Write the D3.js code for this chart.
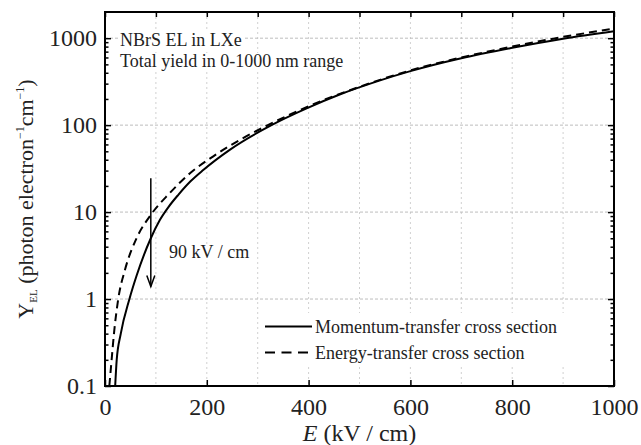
<!DOCTYPE html>
<html>
<head>
<meta charset="utf-8">
<script src="https://cdn.jsdelivr.net/npm/d3@7/dist/d3.min.js"></script>
<style>
body { margin: 0; background: #fff; }
text { font-family: "Liberation Serif", "Times New Roman", serif; fill: #222; }
</style>
</head>
<body>
<svg id="chart" width="641" height="445"></svg>
<script>
// EL yield (photon / electron / cm) vs field (kV/cm)
const eMomentum = [20, 23, 31, 48, 62, 90, 108, 125, 144, 168, 193, 245, 327, 395, 461, 539, 600, 700, 800, 900, 1000];
const yMomentum = [0.1, 0.2, 0.4, 1.0, 1.85, 5.0, 8.15, 11.5, 15.8, 22.6, 30.5, 52, 100, 155, 225, 325, 418, 588, 774, 985, 1200];
const eEnergy = [8.5, 13, 17.6, 26, 39, 62, 90, 127, 167, 212, 265, 320, 400, 500, 600, 700, 800, 900, 1000];
const yEnergy = [0.1, 0.2, 0.4, 1.0, 2.14, 5.0, 9.3, 16.5, 28, 43.5, 67.6, 100, 165, 276, 426, 600, 800, 1035, 1285];

const xTicks = [0, 200, 400, 600, 800, 1000];
const xTopTicks = d3.range(0, 1001, 100);
const xGrid = [100, 200, 300, 400, 500, 600, 700, 800, 900];
const yTicks = [0.1, 1, 10, 100, 1000];
const yTickLabels = ["0.1", "1", "10", "100", "1000"];
const yGrid = [1, 10, 100, 1000];

const seriesNames = ["Momentum-transfer cross section", "Energy-transfer cross section"];
const noteLines = ["NBrS EL in LXe", "Total yield in 0-1000 nm range"];
const arrowE = 90, arrowTop = 24.5, arrowTip = 1.39;

const svg = d3.select("#chart");
const margin = {left: 105, right: 27, top: 12, bottom: 59};
const W = 641, H = 445;
const FONT = "Liberation Serif";
const x = d3.scaleLinear().domain([0, 1000]).range([margin.left, W - margin.right]);
const y = d3.scaleLog().domain([0.1, 2000]).range([H - margin.bottom, margin.top]);

// minor ticks for log axis
const yMinor = [];
for (let p = -1; p <= 3; p++) {
  for (let m = 2; m <= 9; m++) {
    const v = m * Math.pow(10, p);
    if (v < 2000) yMinor.push(v);
  }
}

svg.append("defs").append("clipPath").attr("id", "clip")
  .append("rect")
  .attr("x", margin.left).attr("y", margin.top)
  .attr("width", W - margin.left - margin.right)
  .attr("height", H - margin.top - margin.bottom);

// grid
const grid = svg.append("g").attr("stroke", "#bdbdbd").attr("stroke-width", 1).attr("stroke-dasharray", "3,2");
grid.selectAll(".gx").data(xGrid).enter().append("line")
  .attr("x1", d => x(d)).attr("x2", d => x(d))
  .attr("y1", margin.top).attr("y2", H - margin.bottom)
  .attr("stroke", "#d0d0d0").attr("stroke-dasharray", "2,3");
grid.selectAll(".gy").data(yGrid).enter().append("line")
  .attr("x1", margin.left).attr("x2", W - margin.right)
  .attr("y1", d => y(d)).attr("y2", d => y(d));

// white boxes behind text
function boxed(sel, pad) {
  const b = sel.node().getBBox();
  svg.insert("rect", ".curves")
    .attr("x", b.x - pad).attr("y", b.y + 2)
    .attr("width", b.width + 2 * pad).attr("height", b.height - 3)
    .attr("fill", "#fff");
}

const curves = svg.append("g").attr("class", "curves").attr("clip-path", "url(#clip)");
const line = d3.line().x(d => x(d[0])).y(d => y(d[1])).curve(d3.curveMonotoneX);

curves.append("path")
  .datum(d3.zip(eMomentum, yMomentum))
  .attr("d", line)
  .attr("fill", "none").attr("stroke", "#000").attr("stroke-width", 2);

curves.append("path")
  .datum(d3.zip(eEnergy, yEnergy))
  .attr("d", line)
  .attr("fill", "none").attr("stroke", "#000").attr("stroke-width", 2)
  .attr("stroke-dasharray", "8,5");

// annotations
const notes = svg.append("g");
noteLines.forEach((t, i) => {
  const tx = notes.append("text")
    .attr("x", 120).attr("y", 46 + i * 21)
    .attr("font-family", FONT).attr("font-size", 18).text(t);
  boxed(tx, 2);
});

const arrow = svg.append("g").attr("stroke", "#000").attr("stroke-width", 1.5).attr("fill", "none");
arrow.append("line")
  .attr("x1", x(arrowE)).attr("x2", x(arrowE))
  .attr("y1", y(arrowTop)).attr("y2", y(arrowTip));
arrow.append("path")
  .attr("d", `M${x(arrowE) - 4},${y(arrowTip) - 11}L${x(arrowE)},${y(arrowTip)}L${x(arrowE) + 4},${y(arrowTip) - 11}`);

const lab = svg.append("text")
  .attr("x", 169).attr("y", 258)
  .attr("font-family", FONT).attr("font-size", 18).text(arrowE + " kV / cm");
boxed(lab, 2);

// legend
const legend = svg.append("g");
const legRows = [326.5, 352.5];
const legBg = legend.append("rect").attr("fill", "#fff");
seriesNames.forEach((name, i) => {
  legend.append("line")
    .attr("x1", 265).attr("x2", 312)
    .attr("y1", legRows[i]).attr("y2", legRows[i])
    .attr("stroke", "#000").attr("stroke-width", 2)
    .attr("stroke-dasharray", i === 1 ? "10,6.5" : null);
  legend.append("text")
    .attr("x", 315).attr("y", legRows[i] + 6.5)
    .attr("font-family", FONT).attr("font-size", 18).text(name);
});
legBg.attr("x", 260).attr("y", 313).attr("width", 312).attr("height", 52);

// axes
const axisG = svg.append("g");
axisG.append("rect")
  .attr("x", margin.left).attr("y", margin.top)
  .attr("width", W - margin.left - margin.right)
  .attr("height", H - margin.top - margin.bottom)
  .attr("fill", "none").attr("stroke", "#000").attr("stroke-width", 2);

const xb = axisG.append("g").attr("transform", `translate(0,${H - margin.bottom})`)
  .call(d3.axisBottom(x).tickValues(xTicks).tickSize(-6).tickPadding(12).tickFormat(d3.format("d")));
const xt = axisG.append("g").attr("transform", `translate(0,${margin.top})`)
  .call(d3.axisTop(x).tickValues(xTopTicks).tickSize(-5).tickFormat(""));
const yl = axisG.append("g").attr("transform", `translate(${margin.left},0)`)
  .call(d3.axisLeft(y).tickValues(yTicks).tickSize(-6).tickPadding(8).tickFormat((d, i) => yTickLabels[i]));
const ylm = axisG.append("g").attr("transform", `translate(${margin.left},0)`)
  .call(d3.axisLeft(y).tickValues(yMinor).tickSize(-3.5).tickFormat(""));
const yr = axisG.append("g").attr("transform", `translate(${W - margin.right},0)`)
  .call(d3.axisRight(y).tickValues(yTicks).tickSize(-6).tickFormat(""));
const yrm = axisG.append("g").attr("transform", `translate(${W - margin.right},0)`)
  .call(d3.axisRight(y).tickValues(yMinor).tickSize(-3.5).tickFormat(""));

[xb, xt, yl, ylm, yr, yrm].forEach(g => {
  g.attr("font-family", FONT);
  g.select(".domain").remove();
  g.selectAll(".tick line").attr("stroke", "#000").attr("stroke-width", 1.5);
  g.selectAll(".tick text").attr("font-size", 24).attr("fill", "#222");
});

// axis titles
const xTitle = svg.append("text")
  .attr("x", (margin.left + W - margin.right) / 2).attr("y", 441)
  .attr("text-anchor", "middle").attr("font-family", FONT).attr("font-size", 24);
xTitle.append("tspan").attr("font-style", "italic").text("E");
xTitle.append("tspan").text(" (kV / cm)");

const yTitle = svg.append("text")
  .attr("transform", `translate(33,${(margin.top + H - margin.bottom) / 2}) rotate(-90)`)
  .attr("text-anchor", "middle").attr("font-family", FONT).attr("font-size", 22);
yTitle.append("tspan").text("Y");
yTitle.append("tspan").attr("font-size", 11).attr("dy", 4).text("EL");
yTitle.append("tspan").attr("dy", -4).text(" (photon electron");
yTitle.append("tspan").attr("font-size", 12).attr("dy", -9).text("\u22121");
yTitle.append("tspan").attr("dy", 9).text("cm");
yTitle.append("tspan").attr("font-size", 12).attr("dy", -9).text("\u22121");
yTitle.append("tspan").attr("dy", 9).text(")");
</script>
</body>
</html>
